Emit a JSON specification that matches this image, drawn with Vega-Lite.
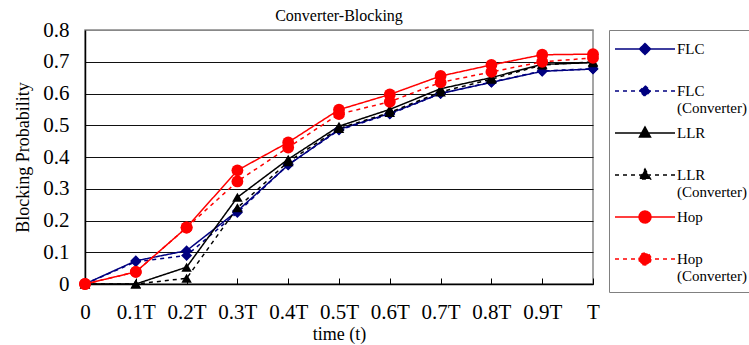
{
  "$schema": "https://vega.github.io/schema/vega-lite/v6.json",
  "width": 508,
  "height": 254,
  "autosize": {"type": "none"},
  "padding": {"left": 85, "top": 30, "right": 156, "bottom": 61},
  "background": "white",
  "config": {
    "font": "Liberation Serif",
    "view": {"stroke": "#888888", "strokeWidth": 1.5},
    "axis": {"labelColor": "black", "titleColor": "black", "labelFont": "Liberation Serif", "titleFont": "Liberation Serif", "titleFontWeight": "normal"}
  },
  "title": {"text": "Converter-Blocking", "fontSize": 16, "fontWeight": "normal", "font": "Liberation Serif", "color": "black", "offset": -5},
  "data": {
    "values": [
      {"s": "FLC", "t": 0, "p": 0}, {"s": "FLC", "t": 0.1, "p": 0.073}, {"s": "FLC", "t": 0.2, "p": 0.105}, {"s": "FLC", "t": 0.3, "p": 0.23}, {"s": "FLC", "t": 0.4, "p": 0.375}, {"s": "FLC", "t": 0.5, "p": 0.487}, {"s": "FLC", "t": 0.6, "p": 0.537}, {"s": "FLC", "t": 0.7, "p": 0.6}, {"s": "FLC", "t": 0.8, "p": 0.635}, {"s": "FLC", "t": 0.9, "p": 0.67}, {"s": "FLC", "t": 1, "p": 0.677},
      {"s": "FLC (Converter)", "t": 0, "p": 0}, {"s": "FLC (Converter)", "t": 0.1, "p": 0.07}, {"s": "FLC (Converter)", "t": 0.2, "p": 0.09}, {"s": "FLC (Converter)", "t": 0.3, "p": 0.225}, {"s": "FLC (Converter)", "t": 0.4, "p": 0.376}, {"s": "FLC (Converter)", "t": 0.5, "p": 0.485}, {"s": "FLC (Converter)", "t": 0.6, "p": 0.535}, {"s": "FLC (Converter)", "t": 0.7, "p": 0.6}, {"s": "FLC (Converter)", "t": 0.8, "p": 0.636}, {"s": "FLC (Converter)", "t": 0.9, "p": 0.671}, {"s": "FLC (Converter)", "t": 1, "p": 0.678},
      {"s": "LLR", "t": 0, "p": 0}, {"s": "LLR", "t": 0.1, "p": 0}, {"s": "LLR", "t": 0.2, "p": 0.053}, {"s": "LLR", "t": 0.3, "p": 0.273}, {"s": "LLR", "t": 0.4, "p": 0.393}, {"s": "LLR", "t": 0.5, "p": 0.497}, {"s": "LLR", "t": 0.6, "p": 0.55}, {"s": "LLR", "t": 0.7, "p": 0.615}, {"s": "LLR", "t": 0.8, "p": 0.65}, {"s": "LLR", "t": 0.9, "p": 0.692}, {"s": "LLR", "t": 1, "p": 0.697},
      {"s": "LLR (Converter)", "t": 0, "p": 0}, {"s": "LLR (Converter)", "t": 0.1, "p": 0}, {"s": "LLR (Converter)", "t": 0.2, "p": 0.018}, {"s": "LLR (Converter)", "t": 0.3, "p": 0.24}, {"s": "LLR (Converter)", "t": 0.4, "p": 0.385}, {"s": "LLR (Converter)", "t": 0.5, "p": 0.49}, {"s": "LLR (Converter)", "t": 0.6, "p": 0.54}, {"s": "LLR (Converter)", "t": 0.7, "p": 0.605}, {"s": "LLR (Converter)", "t": 0.8, "p": 0.645}, {"s": "LLR (Converter)", "t": 0.9, "p": 0.69}, {"s": "LLR (Converter)", "t": 1, "p": 0.7},
      {"s": "Hop", "t": 0, "p": 0}, {"s": "Hop", "t": 0.1, "p": 0.038}, {"s": "Hop", "t": 0.2, "p": 0.178}, {"s": "Hop", "t": 0.3, "p": 0.358}, {"s": "Hop", "t": 0.4, "p": 0.446}, {"s": "Hop", "t": 0.5, "p": 0.549}, {"s": "Hop", "t": 0.6, "p": 0.597}, {"s": "Hop", "t": 0.7, "p": 0.655}, {"s": "Hop", "t": 0.8, "p": 0.69}, {"s": "Hop", "t": 0.9, "p": 0.722}, {"s": "Hop", "t": 1, "p": 0.724},
      {"s": "Hop (Converter)", "t": 0, "p": 0}, {"s": "Hop (Converter)", "t": 0.1, "p": 0.038}, {"s": "Hop (Converter)", "t": 0.2, "p": 0.178}, {"s": "Hop (Converter)", "t": 0.3, "p": 0.323}, {"s": "Hop (Converter)", "t": 0.4, "p": 0.43}, {"s": "Hop (Converter)", "t": 0.5, "p": 0.535}, {"s": "Hop (Converter)", "t": 0.6, "p": 0.574}, {"s": "Hop (Converter)", "t": 0.7, "p": 0.635}, {"s": "Hop (Converter)", "t": 0.8, "p": 0.668}, {"s": "Hop (Converter)", "t": 0.9, "p": 0.7}, {"s": "Hop (Converter)", "t": 1, "p": 0.712}
    ]
  },
  "encoding": {
    "x": {
      "field": "t", "type": "quantitative",
      "scale": {"domain": [0, 1], "nice": false, "zero": false},
      "axis": {
        "title": "time (t)", "titleFontSize": 18, "titlePadding": 3,
        "values": [0, 0.1, 0.2, 0.3, 0.4, 0.5, 0.6, 0.7, 0.8, 0.9, 1],
        "labelExpr": "datum.value == 0 ? '0' : datum.value == 1 ? 'T' : format(datum.value, '.1f') + 'T'",
        "labelFontSize": 21, "labelPadding": 23, "labelFlush": false, "labelOverlap": false,
        "grid": false, "domainColor": "black", "domainWidth": 1.5,
        "ticks": true, "tickSize": -6, "tickColor": "black"
      }
    },
    "y": {
      "field": "p", "type": "quantitative",
      "scale": {"domain": [0, 0.8], "nice": false},
      "axis": {
        "title": "Blocking Probability", "titleFontSize": 18, "titlePadding": 10,
        "values": [0, 0.1, 0.2, 0.3, 0.4, 0.5, 0.6, 0.7, 0.8],
        "format": ".1~f", "labelFontSize": 21, "labelPadding": 16,
        "ticks": false, "grid": true,
        "gridColor": {"condition": {"test": "datum.value >= 0.79", "value": "#888888"}, "value": "#111111"},
        "gridWidth": 1, "gridOpacity": 1,
        "domainColor": "black", "domainWidth": 1.5
      }
    },
    "color": {
      "field": "s", "type": "nominal",
      "scale": {
        "domain": ["FLC", "FLC (Converter)", "LLR", "LLR (Converter)", "Hop", "Hop (Converter)"],
        "range": ["#000080", "#000080", "#000000", "#000000", "#FF0000", "#FF0000"]
      },
      "legend": {
        "title": null, "offset": 13, "padding": 8,
        "strokeColor": "#808080",
        "labelFont": "Liberation Serif", "labelFontSize": 15, "labelColor": "black",
        "labelExpr": "indexof(datum.label, ' ') > 0 ? split(datum.label, ' ') : [datum.label, ' ']",
        "labelLimit": 200, "labelOffset": 38,
        "symbolSize": 400, "symbolStrokeWidth": 1.5, "rowPadding": 6,
        "encode": {
          "symbols": {"update": {
            "shape": {"signal": "indexof(datum.value, 'FLC') == 0 ? 'M-1.3,0H4.7M1.15,0L1.7,-0.55L2.25,0L1.7,0.55Z' : indexof(datum.value, 'LLR') == 0 ? 'M-1.3,0H4.7M1.7,-0.6L2.25,0.4L1.15,0.4Z' : 'M-1.3,0H4.7M2.3,0L2.254,0.23L2.124,0.424L1.93,0.554L1.7,0.6L1.47,0.554L1.276,0.424L1.146,0.23L1.1,0L1.146,-0.23L1.276,-0.424L1.47,-0.554L1.7,-0.6L1.93,-0.554L2.124,-0.424L2.254,-0.23Z'"},
            "strokeDash": {"signal": "indexof(datum.value, 'Converter') > 0 ? [4, 4] : [1, 0]"},
            "fill": {"signal": "scale('color', datum.value)"},
            "stroke": {"signal": "scale('color', datum.value)"},
            "opacity": {"value": 1}
          }},
          "labels": {"update": {"baseline": {"value": "alphabetic"}, "dy": {"value": 5}}}
        }
      }
    }
  },
  "layer": [
    {
      "mark": {"type": "line", "strokeWidth": 1.5},
      "encoding": {
        "strokeDash": {
          "field": "s", "type": "nominal", "legend": null,
          "scale": {
            "domain": ["FLC", "FLC (Converter)", "LLR", "LLR (Converter)", "Hop", "Hop (Converter)"],
            "range": [[1, 0], [4, 4], [1, 0], [4, 4], [1, 0], [4, 4]]
          }
        }
      }
    },
    {
      "transform": [{"filter": "indexof(datum.s, 'FLC') == 0"}],
      "mark": {"type": "point", "filled": true, "opacity": 1, "size": 120, "shape": "diamond"}
    },
    {
      "transform": [{"filter": "indexof(datum.s, 'LLR') == 0"}],
      "mark": {"type": "point", "filled": true, "opacity": 1, "size": 110, "shape": "triangle-up"}
    },
    {
      "transform": [{"filter": "indexof(datum.s, 'Hop') == 0"}],
      "mark": {"type": "point", "filled": true, "opacity": 1, "size": 140, "shape": "circle"}
    }
  ]
}
